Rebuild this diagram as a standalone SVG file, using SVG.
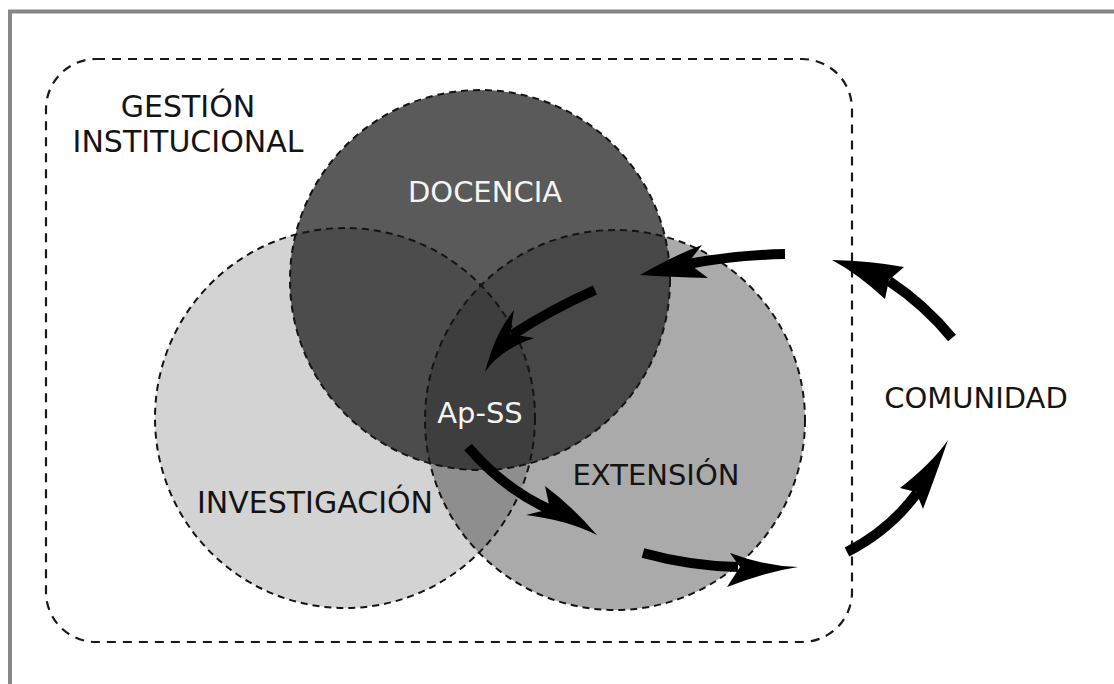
<svg xmlns="http://www.w3.org/2000/svg" width="1114" height="684" viewBox="0 0 1114 684">
  <defs>
    <clipPath id="clip-inv"><circle cx="345" cy="418" r="190"/></clipPath>
    <clipPath id="clip-ext"><circle cx="615" cy="420" r="190"/></clipPath>
    <clipPath id="clip-doc"><circle cx="480" cy="280" r="190"/></clipPath>
  </defs>
  <style>
    .outline { fill: none; stroke: #141414; stroke-width: 2; stroke-dasharray: 7 5; }
    .label { font-family: "DejaVu Sans", Verdana, sans-serif; text-anchor: middle; }
    .dark { fill: #141414; }
    .light { fill: #f4f4f4; }
    .shaft { fill: none; stroke: #000; stroke-width: 10; stroke-linecap: butt; }
    .head { fill: #000; }
  </style>

  <rect width="1114" height="684" fill="#fff"/>
  <!-- page frame -->
  <path d="M10,684 V11.5 H1114" fill="none" stroke="#868686" stroke-width="4"/>

  <!-- outer boundary: institutional management -->
  <g id="gestion">
    <rect x="46" y="59" width="806" height="583" rx="50" ry="50" fill="none" stroke="#1a1a1a" stroke-width="2.2" stroke-dasharray="9 7"/>
    <text class="label dark" x="188" y="117" font-size="30">GESTIÓN</text>
    <text class="label dark" x="188" y="152" font-size="30">INSTITUCIONAL</text>
  </g>

  <!-- filled regions of the three circles -->
  <g id="investigacion">
    <circle cx="345" cy="418" r="190" fill="#d3d3d3"/>
  </g>
  <g id="extension">
    <circle cx="615" cy="420" r="190" fill="#aaaaaa"/>
    <circle cx="615" cy="420" r="190" fill="#8e8e8e" clip-path="url(#clip-inv)"/>
  </g>
  <g id="docencia">
    <circle cx="480" cy="280" r="190" fill="#5a5a5a"/>
    <g clip-path="url(#clip-doc)">
      <circle cx="345" cy="418" r="190" fill="#4c4c4c"/>
      <circle cx="615" cy="420" r="190" fill="#474747"/>
    </g>
  </g>
  <g id="apss">
    <g clip-path="url(#clip-doc)">
      <g clip-path="url(#clip-inv)">
        <circle cx="615" cy="420" r="190" fill="#3e3e3e"/>
      </g>
    </g>
  </g>

  <!-- dashed outlines -->
  <g id="outlines">
    <circle class="outline" cx="345" cy="418" r="190"/>
    <circle class="outline" cx="615" cy="420" r="190"/>
    <circle class="outline" cx="480" cy="280" r="190"/>
  </g>

  <!-- labels -->
  <g id="labels">
    <text class="label light" x="485" y="202" font-size="29">DOCENCIA</text>
    <text class="label dark" x="315" y="513" font-size="30">INVESTIGACIÓN</text>
    <text class="label dark" x="656" y="485" font-size="29">EXTENSIÓN</text>
    <text class="label light" x="480" y="423" font-size="29">Ap-SS</text>
  </g>

  <g id="comunidad">
    <text class="label dark" x="976" y="408" font-size="29">COMUNIDAD</text>
  </g>

  <!-- cycle arrows -->
  <g id="connectors">
    <path class="shaft" d="M785,254 Q735,255 688,264"/>
    <path class="head" d="M640,275 Q675,255 702,245 L688,263 L708,278 Q670,277 640,275 Z"/>

    <path class="shaft" d="M595,290 Q550,310 512,335"/>
    <path class="head" d="M485,372 Q495,333 514,310 L510,334 L534,338 Q500,350 485,372 Z"/>

    <path class="shaft" d="M468,447 Q505,490 551,510"/>
    <path class="head" d="M597,535 Q572,506 545,486 L550,509 L526,515 Q567,520 597,535 Z"/>

    <path class="shaft" d="M643,553 Q690,566 738,567"/>
    <path class="head" d="M798,567 Q765,566 730,553 L740,567 L727,587 Q765,572 798,567 Z"/>

    <path class="shaft" d="M847,552 Q890,530 917,493"/>
    <path class="head" d="M948,440 Q937,472 923,509 L916,492 L900,488 Q932,463 948,440 Z"/>

    <path class="shaft" d="M952,338 Q925,305 889,281"/>
    <path class="head" d="M832,260 Q872,261 904,267 L889,280 L885,299 Q858,274 832,260 Z"/>
  </g>
</svg>
